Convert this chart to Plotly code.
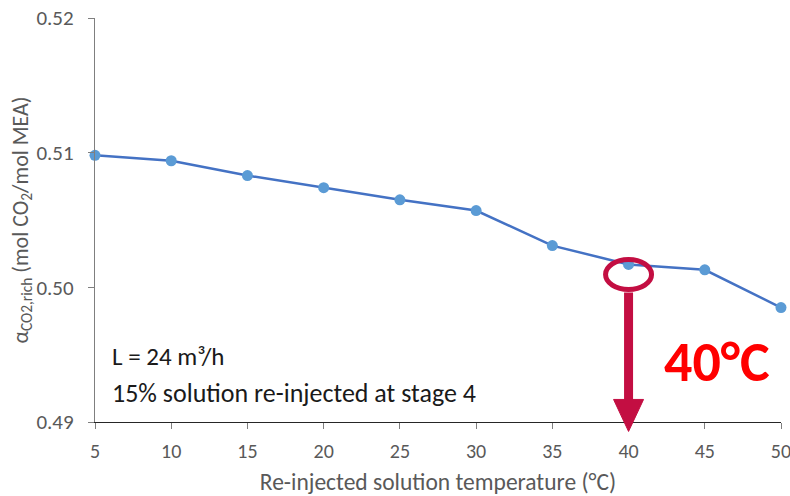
import plotly.graph_objects as go

# Rich loading vs. temperature of the re-injected solution
temperature_c = [5, 10, 15, 20, 25, 30, 35, 40, 45, 50]
alpha_rich = [0.5098, 0.5094, 0.5083, 0.5074, 0.5065, 0.5057, 0.5031, 0.5017, 0.5013, 0.4985]
x_ticks = [5, 10, 15, 20, 25, 30, 35, 40, 45, 50]
y_ticks = [0.49, 0.50, 0.51, 0.52]
highlight_temp = 40
highlight_label = "40°C"

X_RANGE = [5, 50]
Y_RANGE = [0.49, 0.52]

FONT = "Carlito, Lato, sans-serif"
LINE_BLUE = "#4472C4"
MARKER_BLUE = "#5B9BD5"
CRIMSON = "#C30E42"


def to_paper(x, y):
    """Map data coordinates to paper fractions for the fixed axis ranges."""
    return ((x - X_RANGE[0]) / (X_RANGE[1] - X_RANGE[0]),
            (y - Y_RANGE[0]) / (Y_RANGE[1] - Y_RANGE[0]))


fig = go.Figure()
fig.add_trace(go.Scatter(
    x=temperature_c, y=alpha_rich, mode="lines+markers",
    line=dict(color=LINE_BLUE, width=2.5),
    marker=dict(color=MARKER_BLUE, size=11),
    cliponaxis=False, showlegend=False,
))

hx, hy = to_paper(highlight_temp, alpha_rich[temperature_c.index(highlight_temp)])
common = dict(xref="paper", yref="paper", xsizemode="pixel", ysizemode="pixel",
              xanchor=hx, yanchor=hy, layer="above")
shapes = [
    # ring around the highlighted point
    dict(type="circle", x0=-23, x1=23, y0=-25, y1=5,
         line=dict(color=CRIMSON, width=5), **common),
    # arrow shaft
    dict(type="line", x0=0, x1=0, y0=-28, y1=-137,
         line=dict(color=CRIMSON, width=9), **common),
    # arrow head
    dict(type="path", path="M -15,-135 L 15,-135 L 0,-167 Z",
         fillcolor=CRIMSON, line=dict(color=CRIMSON, width=1), **common),
]

fig.update_layout(
    width=790, height=496,
    margin=dict(l=95, r=9, t=18, b=74),
    paper_bgcolor="white", plot_bgcolor="white",
    font=dict(family=FONT, color="#595959", size=20),
    shapes=shapes,
    xaxis=dict(
        range=X_RANGE, tickmode="array", tickvals=x_ticks,
        ticktext=[str(v) for v in x_ticks],
        showgrid=False, zeroline=False, showline=True,
        linecolor="#262626", linewidth=1.3,
        ticks="outside", ticklen=6, tickcolor="#7f7f7f",
        tickfont=dict(size=20, color="#595959"),
        ticklabelstandoff=5, ticklabeloverflow="allow",
        automargin=False,
        title=dict(text="Re-injected solution temperature (°C)",
                   font=dict(size=23.5, color="#595959"), standoff=13),
    ),
    yaxis=dict(
        range=Y_RANGE, tickmode="array", tickvals=y_ticks,
        ticktext=[f"{v:.2f}" for v in y_ticks],
        showgrid=False, zeroline=False, showline=True,
        linecolor="#7f7f7f", linewidth=1.3,
        ticks="outside", ticklen=6, tickcolor="#7f7f7f",
        tickfont=dict(size=21, color="#595959"),
        ticklabelstandoff=10,
        automargin=False,
        title=dict(text="α<sub>CO2,rich</sub> (mol CO<sub>2</sub>/mol MEA)",
                   font=dict(size=22, color="#595959"), standoff=0),
    ),
    annotations=[
        dict(text="L = 24 m³/h", xref="paper", yref="paper",
             x=0.022, y=0.161, xanchor="left", yanchor="middle",
             showarrow=False, font=dict(size=25, color="#1a1a1a", family=FONT)),
        dict(text="15% solution re-injected at stage 4", xref="paper", yref="paper",
             x=0.022, y=0.072, xanchor="left", yanchor="middle",
             showarrow=False, font=dict(size=26, color="#1a1a1a", family=FONT)),
        dict(text=f"<b>{highlight_label}</b>", xref="paper", yref="paper",
             x=0.907, y=0.149, xanchor="center", yanchor="middle",
             showarrow=False, font=dict(size=56, color="#FF0000", family=FONT)),
    ],
)

fig.write_html("out.html")
